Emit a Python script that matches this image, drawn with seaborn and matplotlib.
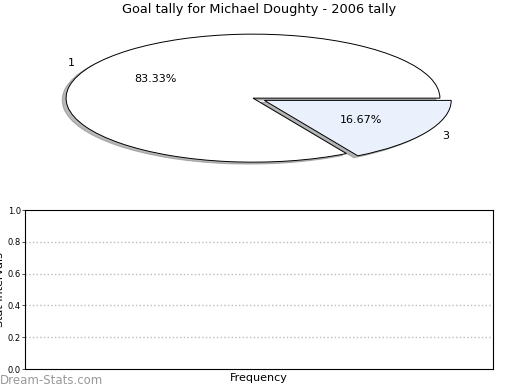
import matplotlib
matplotlib.use("Agg")
import matplotlib.pyplot as plt
import seaborn as sns

# Data
labels = ["1", "3"]
values = [5, 1]
colors = ["#ffffff", "#eaf0fc"]
explode = [0.0, 0.07]
yticks = [0.0, 0.2, 0.4, 0.6, 0.8, 1.0]

sns.set_theme(style="white")
plt.rcParams["font.family"] = ["DejaVu Sans"]
plt.rcParams["text.color"] = "black"
plt.rcParams["axes.labelcolor"] = "black"
plt.rcParams["ytick.color"] = "black"

fig = plt.figure(figsize=(5.2, 3.9), dpi=100)

# Pie axes
ax1 = fig.add_axes([0.0192, 0.535, 0.9346, 0.4267])
wedges, texts, autotexts = ax1.pie(
    values, labels=labels, colors=colors, explode=explode,
    autopct="%.2f%%", startangle=0, counterclock=True,
    shadow={"ox": -0.015, "oy": -0.022, "shade": 0.55},
    wedgeprops={"edgecolor": "black", "linewidth": 0.7},
    textprops={"fontsize": 8, "color": "black"},
    labeldistance=1.1, pctdistance=0.6,
)
ax1.set_aspect("auto")
ax1.set_xlim(-1.3, 1.3)
ax1.set_ylim(-1.3, 1.3)
ax1.axis("off")
fig.text(259 / 520, 1 - 10 / 390, "Goal tally for Michael Doughty - 2006 tally",
         ha="center", va="center", fontsize=9.3)

# Empty bottom axes
ax2 = fig.add_axes([0.048, 0.0538, 0.9, 0.4077])
ax2.set_ylim(0, 1)
ax2.set_xlim(0, 1)
ax2.set_yticks(yticks)
ax2.set_yticklabels([f"{t:.1f}" for t in yticks], fontsize=6)
ax2.set_xticks([])
ax2.tick_params(axis="y", length=2, width=0.5, pad=1, left=True, direction="out")
for s in ax2.spines.values():
    s.set_color("black")
    s.set_linewidth(0.8)
for t in yticks[1:-1]:
    ax2.axhline(t, color="#bbbbbb", linestyle=":", linewidth=1.0)
ax2.set_xlabel("Frequency", fontsize=8, labelpad=3)
ax2.set_ylabel("Stat Intervals", fontsize=8)
ax2.yaxis.set_label_coords(-0.042, 0.5)

fig.text(0.0, 1 - 380 / 390, "Dream-Stats.com", ha="left", va="center",
         fontsize=8.5, color="#999999")

fig.savefig("out.png", dpi=100)
